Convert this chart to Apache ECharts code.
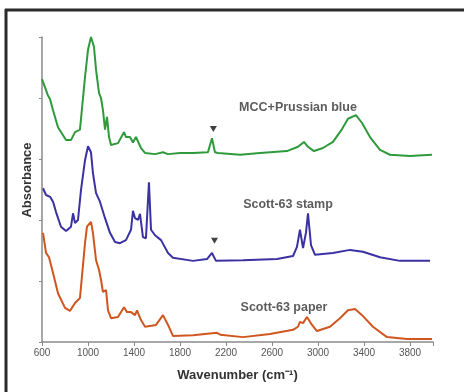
<!DOCTYPE html>
<html><head><meta charset="utf-8">
<script src="https://cdn.jsdelivr.net/npm/echarts@6/dist/echarts.min.js"></script>
<style>html,body{margin:0;padding:0;background:#fff}#c{width:464px;height:392px}</style>
</head><body><div id="c"></div>
<script>
const xTicks = [600,1000,1400,1800,2200,2600,3000,3400,3800];
const greenX = [600,650,670,696,739,809,852,887,904,930,974,1000,1026,1052,1070,1096,1113,1130,1148,1165,1183,1200,1261,1313,1330,1365,1391,1417,1461,1496,1583,1652,1696,1800,1913,2043,2078,2104,2130,2322,2496,2730,2826,2878,2913,2965,3043,3130,3209,3261,3330,3383,3452,3539,3626,3800,3991];
const greenY = [4.31,4.05,3.98,3.80,3.52,3.31,3.31,3.44,3.41,3.48,4.34,4.79,5.0,4.84,4.46,4.08,4.0,3.80,3.48,3.69,3.36,3.23,3.26,3.44,3.36,3.36,3.27,3.36,3.18,3.10,3.08,3.11,3.08,3.10,3.10,3.11,3.34,3.11,3.10,3.07,3.10,3.13,3.20,3.28,3.20,3.13,3.18,3.28,3.49,3.66,3.72,3.59,3.36,3.15,3.07,3.05,3.07];
const blueX = [609,635,670,696,722,765,809,852,870,887,913,939,974,1000,1026,1043,1070,1104,1148,1191,1235,1278,1330,1374,1391,1409,1435,1452,1478,1504,1530,1548,1583,1635,1696,1739,1913,2035,2078,2113,2348,2643,2783,2817,2843,2870,2896,2913,2939,2974,3130,3278,3391,3539,3713,3974];
const blueY = [2.52,2.41,2.38,2.30,2.13,1.89,1.82,1.89,2.11,1.95,2.0,2.49,2.98,3.21,3.11,2.77,2.44,2.30,2.03,1.79,1.64,1.62,1.67,1.84,2.15,2.03,2.0,2.10,1.72,1.70,2.62,1.84,1.75,1.67,1.46,1.38,1.33,1.36,1.46,1.33,1.34,1.36,1.41,1.56,1.84,1.54,1.80,2.11,1.59,1.43,1.46,1.51,1.48,1.39,1.33,1.33];
const orangeX = [609,635,661,696,739,800,843,887,930,974,991,1026,1043,1070,1096,1113,1130,1157,1174,1200,1261,1313,1339,1374,1409,1426,1461,1496,1591,1652,1696,1739,1913,2122,2150,2348,2583,2783,2826,2843,2870,2904,2948,2991,3104,3191,3261,3322,3383,3478,3600,3774,3991];
const orangeY = [1.79,1.46,1.39,1.13,0.80,0.56,0.51,0.64,0.72,1.62,1.89,1.97,1.79,1.34,1.18,1.02,0.82,0.85,0.52,0.39,0.41,0.57,0.49,0.49,0.44,0.52,0.36,0.25,0.28,0.44,0.28,0.10,0.11,0.15,0.12,0.08,0.13,0.20,0.25,0.33,0.31,0.41,0.28,0.18,0.25,0.39,0.52,0.54,0.44,0.25,0.08,0.05,0.05];
const seriesNames = ['MCC+Prussian blue','Scott-63 stamp','Scott-63 paper'];
const labelPos = [[2826,3.84],[2739,2.25],[2704,0.57]];
const markers = [[2090,3.49],[2100,1.66]];

const pairs = (xs, ys) => xs.map((x, i) => [x, ys[i]]);
const chart = echarts.init(document.getElementById('c'));
const lineSeries = (name, xs, ys, color) => ({
  name, type: 'line', data: pairs(xs, ys), showSymbol: false, symbol: 'none',
  lineStyle: { color, width: 2 }, z: 2
});
chart.setOption({
  animation: false,
  backgroundColor: '#fff',
  grid: { left: 42, right: 31, top: 37, bottom: 50 },
  xAxis: {
    type: 'value', min: 600, max: 4000, interval: 400,
    axisLine: { lineStyle: { color: '#8a8a8a', width: 1.5 } },
    axisTick: { length: 4, lineStyle: { color: '#8a8a8a' } },
    axisLabel: { color: '#555', fontSize: 10, fontFamily: 'Arial, Liberation Sans', margin: 6,
      formatter: v => xTicks.includes(v) ? String(v) : '' },
    splitLine: { show: false },
    name: 'Wavenumber (cm⁻¹)', nameLocation: 'middle', nameGap: 27,
    nameTextStyle: { color: '#333', fontSize: 13, fontWeight: 'bold', fontFamily: 'Arial, Liberation Sans' }
  },
  yAxis: {
    type: 'value', min: 0, max: 5, interval: 1,
    axisLine: { show: true, lineStyle: { color: '#8a8a8a', width: 1.5 } },
    axisTick: { show: true, length: 3, lineStyle: { color: '#8a8a8a' } },
    axisLabel: { show: false },
    splitLine: { show: false }
  },
  series: [
    lineSeries(seriesNames[0], greenX, greenY, '#2e9a3c'),
    lineSeries(seriesNames[1], blueX, blueY, '#3a32a3'),
    lineSeries(seriesNames[2], orangeX, orangeY, '#d0561f'),
    {
      type: 'scatter', data: labelPos.map((p, i) => ({ value: p, name: seriesNames[i] })),
      symbolSize: 0, silent: true,
      label: { show: true, position: 'inside', formatter: p => p.name, color: '#333', fontSize: 12.5, fontWeight: 'bold', fontFamily: 'Arial, Liberation Sans' }
    },
    {
      type: 'scatter', data: markers, symbol: 'triangle', symbolRotate: 180, symbolSize: [7, 6],
      itemStyle: { color: '#111' }, silent: true
    }
  ],
  graphic: [
    { type: 'line', shape: { x1: 5, y1: 10, x2: 464, y2: 10 }, style: { stroke: '#2b2b2b', lineWidth: 3 } },
    { type: 'line', shape: { x1: 6, y1: 9, x2: 6, y2: 392 }, style: { stroke: '#2b2b2b', lineWidth: 3 } },
    { type: 'text', x: 27, y: 180, rotation: Math.PI / 2,
      style: { text: 'Absorbance', fill: '#333', font: 'bold 13px Arial, Liberation Sans', align: 'center', verticalAlign: 'middle' } }
  ]
});
</script></body></html>
